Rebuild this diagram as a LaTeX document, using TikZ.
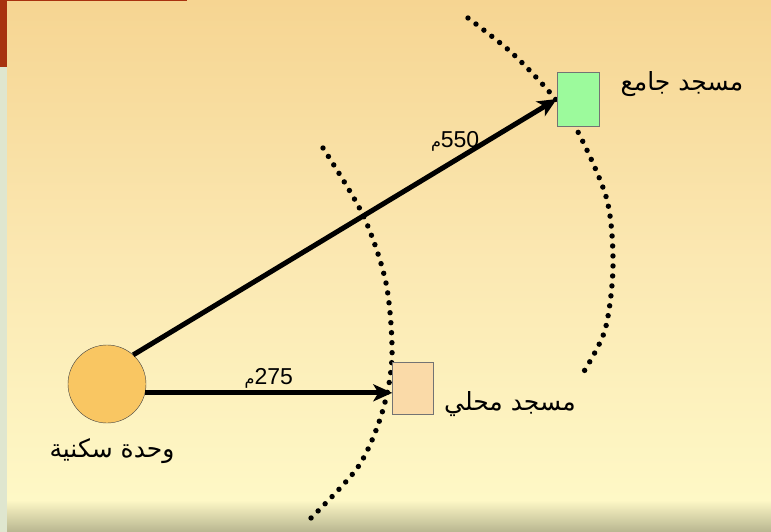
\documentclass[tikz,border=0pt]{standalone}
\usepackage{fontspec}
\setmainfont{Liberation Sans}
\newfontfamily\arabicfont[Script=Arabic]{DejaVu Sans}
\TeXXeTstate=1
\usepackage{tikz}
\usetikzlibrary{arrows.meta}
\definecolor{bgtop}{HTML}{F6D592}
\definecolor{bgmid}{HTML}{FBE8B2}
\definecolor{bglow}{HTML}{FEF8C6}
\definecolor{bgband}{HTML}{B8B690}
\definecolor{leiste}{HTML}{DFE6CF}
\definecolor{folienrot}{HTML}{A8320F}
\definecolor{sonne}{HTML}{F9C662}
\definecolor{pfirsich}{HTML}{FADAA8}
\definecolor{hellgruen}{HTML}{9CFA9C}

\begin{document}
\begin{tikzpicture}[x=1pt,y=-1pt,
  haus/.style={circle,draw=black!75,fill=sonne,minimum size=78pt,inner sep=0pt},
  moschee/.style={rectangle,draw=black!55,inner sep=0pt},
  schrift/.style={font=\arabicfont\fontsize{25}{30}\selectfont},
  zahl/.style={font=\fontsize{23}{25}\selectfont,inner sep=1pt},
  pfeil/.style={line width=5pt,-{Stealth[length=19pt,width=17pt,inset=5pt]}},
  punkte/.style={line width=5.4pt,line cap=round,dash pattern=on 0pt off 10pt}]
  % slide background
  \useasboundingbox (0,0) rectangle (771,532);
  \shade[top color=bgtop,bottom color=bgmid] (0,0) rectangle (771,260);
  \shade[top color=bgmid,bottom color=bglow] (0,260) rectangle (771,500);
  \shade[top color=bglow,bottom color=bgband] (0,500) rectangle (771,532);
  \fill[leiste] (0,0) rectangle (7,532);
  \fill[folienrot] (0,0) rectangle (7,67);
  \fill[folienrot] (0,0) rectangle (187,1.5);

  % distance arcs
  \draw[punkte] plot[smooth] coordinates {(323,148) (363,215) (386,283) (392,357)
    (382,413) (358,467) (309,520)};
  \draw[punkte] plot[smooth] coordinates {(468,18) (512,53) (552,95) (578,132)
    (607,200) (613,267) (605,330) (583,373)};

  \node[haus] (h) at (107,384) {};
  \node[moschee,fill=pfirsich,minimum width=41pt,minimum height=52pt] (m1) at (413,388) {};
  \node[moschee,fill=hellgruen,minimum width=42pt,minimum height=54pt] (m2) at (578,99) {};

  \node[schrift] (lh) at (112,451) {\beginR وحدة سكنية\endR};
  \node[schrift] (l1) at (510,404) {\beginR مسجد محلي\endR};
  \node[schrift] (l2) at (682,84) {\beginR مسجد جامع\endR};

  \draw[pfeil] (h.-13) -- (h.-13 -| m1.west)
    node[midway,above=1pt,zahl] {{\arabicfont\fontsize{16}{18}\selectfont\beginR م\endR}275};
  \draw[pfeil] (h.48) -- (m2.west)
    node[pos=0.76,above=6pt,zahl] {{\arabicfont\fontsize{16}{18}\selectfont\beginR م\endR}550};
\end{tikzpicture}
\end{document}
